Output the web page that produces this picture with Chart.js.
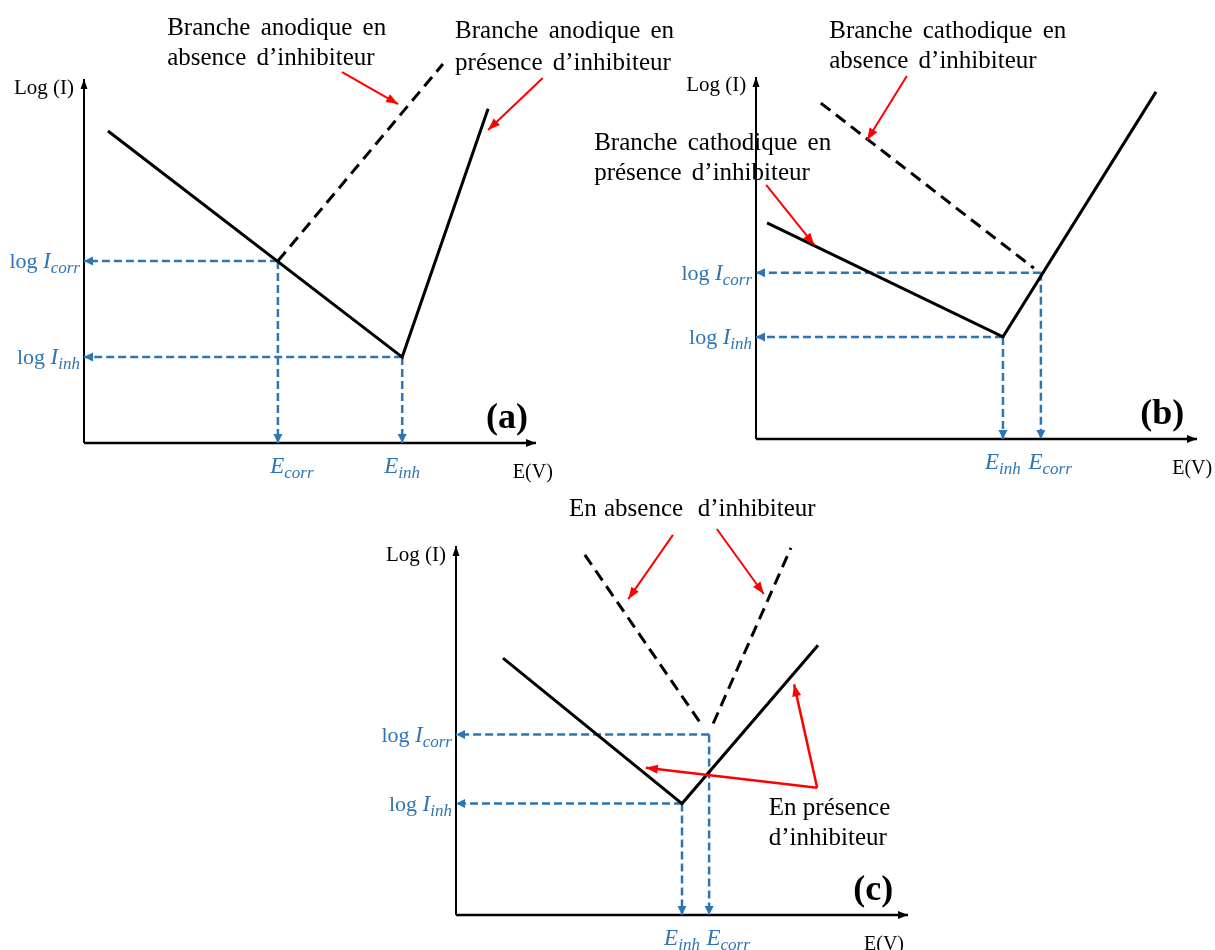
<!DOCTYPE html>
<html>
<head>
<meta charset="utf-8">
<script src="https://cdn.jsdelivr.net/npm/chart.js@4.4.1/dist/chart.umd.min.js"></script>
<style>
  body { margin: 0; background: #fff; width: 1215px; height: 950px; overflow: hidden; }
  canvas { position: absolute; left: 0; top: 0; }
</style>
</head>
<body>
<canvas id="panelA" width="1215" height="950"></canvas>
<canvas id="panelB" width="1215" height="950"></canvas>
<canvas id="panelC" width="1215" height="950"></canvas>
<script>
// Tafel diagrams, schematic units: E on x (0..10), log I on y (0..10)

// (a) anodic inhibitor
const aSolid = [[0.53, 8.57], [7.04, 2.36], [8.94, 9.18]];
const aDashed = [[4.29, 5.0], [7.94, 10.41]];
const aCorr = [4.29, 5.0];   // [E_corr, log I_corr]
const aInh = [7.04, 2.36];   // [E_inh, log I_inh]

// (b) cathodic inhibitor
const bSolid = [[0.25, 5.97], [5.6, 2.82], [9.07, 9.59]];
const bDashed = [[1.47, 9.28], [6.3, 4.72]];
const bCorr = [6.46, 4.59];
const bInh = [5.6, 2.82];

// (c) mixed inhibitor
const cSolid = [[1.04, 6.96], [5.0, 3.02], [8.01, 7.31]];
const cDashedLeft = [[2.85, 9.76], [5.46, 5.11]];
const cDashedRight = [[5.69, 5.19], [7.41, 9.95]];
const cCorr = [5.6, 4.89];
const cInh = [5.0, 3.02];

const BLUE = '#2e75b6';
const RED = '#ff0000';
const SERIF = '"Liberation Serif", "Times New Roman", serif';

// draws a filled arrowhead at the last point of datasets that carry `arrow: [length, halfWidth]`
const arrowHeads = {
  id: 'arrowHeads',
  afterDatasetsDraw(chart) {
    const ctx = chart.ctx;
    chart.data.datasets.forEach((ds, i) => {
      if (!ds.arrow) return;
      const pts = chart.getDatasetMeta(i).data;
      const a = pts[pts.length - 2], b = pts[pts.length - 1];
      const ang = Math.atan2(b.y - a.y, b.x - a.x);
      const [len, half] = ds.arrow;
      ctx.save();
      ctx.translate(b.x, b.y);
      ctx.rotate(ang);
      ctx.fillStyle = ds.borderColor;
      ctx.beginPath();
      ctx.moveTo(0, 0);
      ctx.lineTo(-len, -half);
      ctx.lineTo(-len, half);
      ctx.closePath();
      ctx.fill();
      ctx.restore();
    });
  }
};

// label like "log I_corr" or "E_inh": upright prefix, italic letter, italic subscript
function mathLabel(prefix, letter, sub) {
  const parts = [];
  if (prefix) parts.push({ t: prefix, font: `22px ${SERIF}`, dy: 0 });
  parts.push({ t: letter, font: `italic 23px ${SERIF}`, dy: 0 });
  parts.push({ t: sub, font: `italic 17px ${SERIF}`, dy: 5 });
  return parts;
}

function drawMath(ctx, parts, px, py, align) {
  let total = 0;
  parts.forEach(p => { ctx.font = p.font; p.w = ctx.measureText(p.t).width; total += p.w; });
  let x = align === 'right' ? px - total : align === 'center' ? px - total / 2 : px;
  ctx.fillStyle = BLUE;
  ctx.textAlign = 'left';
  ctx.textBaseline = 'alphabetic';
  parts.forEach(p => {
    ctx.font = p.font;
    ctx.fillText(p.t, x, py + p.dy);
    x += p.w;
  });
}

function notesPlugin(items) {
  return {
    id: 'notes',
    afterDraw(chart) {
      const { ctx, scales: { x, y } } = chart;
      ctx.save();
      items.forEach(n => {
        const px = x.getPixelForValue(n.x);
        const py = y.getPixelForValue(n.y) + (n.dy || 0);
        if (n.math) {
          drawMath(ctx, n.math, px, py, n.align);
          return;
        }
        ctx.font = `${n.bold ? 'bold ' : ''}${n.size || 25}px ${SERIF}`;
        ctx.fillStyle = '#000';
        ctx.textAlign = n.align || 'left';
        ctx.textBaseline = 'alphabetic';
        ctx.wordSpacing = (n.gap || 0) + 'px';
        ctx.fillText(n.text, px, py);
        ctx.wordSpacing = '0px';
      });
      ctx.restore();
    }
  };
}

function line(points, color, width, dash, arrow) {
  return {
    data: points.map(([x, y]) => ({ x, y })),
    showLine: true,
    borderColor: color,
    borderWidth: width,
    borderDash: dash || [],
    pointRadius: 0,
    clip: false,
    fill: false,
    arrow: arrow
  };
}

function guides([e, i]) {
  return [
    line([[e, i], [0, i]], BLUE, 2.5, [8, 4], [9, 4.5]),
    line([[e, i], [e, 0]], BLUE, 2.5, [8, 4], [9, 4.5])
  ];
}

function axes() {
  return [
    line([[0, 0], [10, 0]], '#000', 2.5, null, [10, 4]),
    line([[0, 0], [0, 10]], '#000', 2, null, [10, 3.5])
  ];
}

function commonLabels(corr, inh, eCorrX, tag) {
  return [
    { text: 'Log (I)', x: -0.22, y: 9.6, align: 'right', size: 21 },
    { text: 'E(V)', x: tag.ev, y: 0, dy: 35, align: 'center', size: 20 },
    { text: tag.text, x: tag.x, y: 0.42, align: 'center', size: 36, bold: true },
    { math: mathLabel('log ', 'I', 'corr'), x: -0.09, y: corr[1], dy: 7, align: 'right' },
    { math: mathLabel('log ', 'I', 'inh'), x: -0.09, y: inh[1], dy: 7, align: 'right' },
    { math: mathLabel('', 'E', 'corr'), x: eCorrX, y: 0, dy: 30, align: 'center' },
    { math: mathLabel('', 'E', 'inh'), x: inh[0], y: 0, dy: 30, align: 'center' }
  ];
}

// box = pixel extent of the axes: origin at (left, bottom), arrow tips at right / top
function drawPanel(id, box, datasets, notes) {
  return new Chart(document.getElementById(id), {
    type: 'scatter',
    data: { datasets },
    options: {
      responsive: false,
      animation: false,
      devicePixelRatio: 1,
      events: [],
      layout: { padding: { left: box.left, top: box.top, right: 1215 - box.right, bottom: 950 - box.bottom } },
      scales: {
        x: { type: 'linear', min: 0, max: 10, display: false },
        y: { type: 'linear', min: 0, max: 10, display: false }
      },
      plugins: { legend: { display: false }, tooltip: { enabled: false } }
    },
    plugins: [arrowHeads, notesPlugin(notes)]
  });
}

drawPanel('panelA', { left: 84, right: 536, top: 79, bottom: 443 }, [
  line([[5.71, 10.19], [6.95, 9.31]], RED, 2, null, [12, 4.5]),
  line([[10.15, 10.03], [8.94, 8.6]], RED, 2, null, [12, 4.5]),
  line(aSolid, '#000', 3),
  line(aDashed, '#000', 3, [12, 7]),
  ...guides(aCorr),
  ...guides(aInh),
  ...axes()
], [
  { text: 'Branche anodique en', x: 1.84, y: 11.21, gap: 4 },
  { text: 'absence d\u2019inhibiteur', x: 1.84, y: 10.38, gap: 4 },
  { text: 'Branche anodique en', x: 8.21, y: 11.13, gap: 4 },
  { text: 'pr\u00e9sence d\u2019inhibiteur', x: 8.21, y: 10.25, gap: 4 },
  ...commonLabels(aCorr, aInh, 4.6, { text: '(a)', x: 9.36, ev: 9.93 })
]);

drawPanel('panelB', { left: 756, right: 1197, top: 77, bottom: 439 }, [
  line([[3.42, 10.03], [2.52, 8.26]], RED, 2, null, [12, 4.5]),
  line([[0.23, 7.02], [1.32, 5.36]], RED, 2, null, [12, 4.5]),
  line(bSolid, '#000', 3),
  line(bDashed, '#000', 3, [12, 7]),
  ...guides(bCorr),
  ...guides(bInh),
  ...axes()
], [
  { text: 'Branche cathodique en', x: 1.66, y: 11.08, gap: 4 },
  { text: 'absence d\u2019inhibiteur', x: 1.66, y: 10.25, gap: 4 },
  { text: 'Branche cathodique en', x: -3.67, y: 7.98, gap: 4 },
  { text: 'pr\u00e9sence d\u2019inhibiteur', x: -3.67, y: 7.15, gap: 4 },
  ...commonLabels(bCorr, bInh, 6.67, { text: '(b)', x: 9.21, ev: 9.89 })
]);

drawPanel('panelC', { left: 456, right: 908, top: 546, bottom: 915 }, [
  line([[4.8, 10.3], [3.81, 8.56]], RED, 2, null, [12, 4.5]),
  line([[5.77, 10.46], [6.81, 8.7]], RED, 2, null, [12, 4.5]),
  line([[7.99, 3.45], [4.2, 3.99]], RED, 2.5, null, [12, 4.5]),
  line([[7.99, 3.45], [7.48, 6.25]], RED, 2.5, null, [12, 4.5]),
  line(cSolid, '#000', 3),
  line(cDashedLeft, '#000', 3, [12, 7]),
  line(cDashedRight, '#000', 3, [12, 7]),
  ...guides(cCorr),
  ...guides(cInh),
  ...axes()
], [
  { text: 'En absence  d\u2019inhibiteur', x: 2.5, y: 10.82, gap: 1 },
  { text: 'En pr\u00e9sence', x: 6.92, y: 2.72 },
  { text: 'd\u2019inhibiteur', x: 6.92, y: 1.9 },
  ...commonLabels(cCorr, cInh, 6.02, { text: '(c)', x: 9.23, ev: 9.47 })
]);
</script>
</body>
</html>
